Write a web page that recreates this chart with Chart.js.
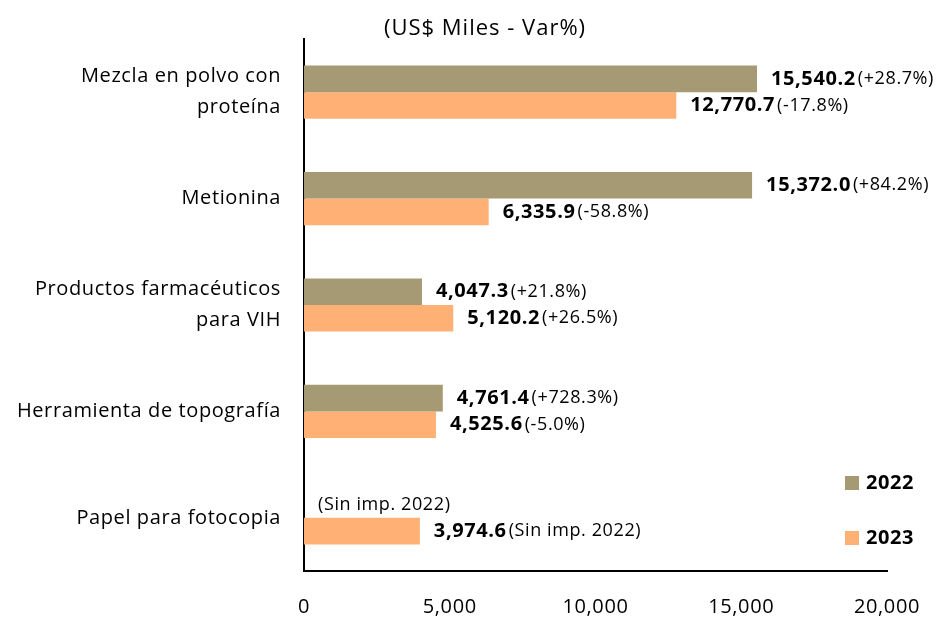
<!DOCTYPE html>
<html>
<head>
<meta charset="utf-8">
<script src="https://cdn.jsdelivr.net/npm/chart.js@4"></script>
<style>
  body { margin: 0; background: #fff; }
  #wrap { width: 945px; height: 625px; }
</style>
</head>
<body>
<div id="wrap"><canvas id="chart" width="945" height="625"></canvas></div>
<script>
// Data
const categories = [
  ['Mezcla en polvo con', 'proteína'],
  'Metionina',
  ['Productos farmacéuticos', 'para VIH'],
  'Herramienta de topografía',
  'Papel para fotocopia'
];
const values2022 = [15540.2, 15372.0, 4047.3, 4761.4, null];
const values2023 = [12770.7, 6335.9, 5120.2, 4525.6, 3974.6];
const var2022 = ['(+28.7%)', '(+84.2%)', '(+21.8%)', '(+728.3%)', '(Sin imp. 2022)'];
const var2023 = ['(-17.8%)', '(-58.8%)', '(+26.5%)', '(-5.0%)', '(Sin imp. 2022)'];
const xTicks = [0, 5000, 10000, 15000, 20000];

const FONT = '"Open Sans", Lato, sans-serif';
const COLOR_2022 = '#A69A75';
const COLOR_2023 = '#FFB074';
const SPACING = '0.6px';

function fmt(v) {
  return v.toLocaleString('en-US', { minimumFractionDigits: 1, maximumFractionDigits: 1 });
}

// wider letter spacing, like the original's rendering
const spacingPlugin = {
  id: 'spacing',
  beforeUpdate(chart) { chart.ctx.letterSpacing = SPACING; },
  beforeDraw(chart) { chart.ctx.letterSpacing = SPACING; }
};

// Draws value labels, subtitle and legend
const labelsPlugin = {
  id: 'barLabels',
  afterDatasetsDraw(chart) {
    const ctx = chart.ctx;
    const xScale = chart.scales.x;
    const vars = [var2022, var2023];
    ctx.save();
    ctx.textBaseline = 'middle';
    ctx.fillStyle = '#000';
    chart.data.datasets.forEach((ds, di) => {
      const meta = chart.getDatasetMeta(di);
      meta.data.forEach((bar, i) => {
        const v = ds.data[i];
        let x = (v == null ? xScale.getPixelForValue(0) : bar.x) + 14;
        const y = bar.y;
        if (!isFinite(y)) return;
        ctx.textAlign = 'left';
        if (v != null) {
          ctx.font = 'bold 20px ' + FONT;
          const s = fmt(v);
          ctx.fillText(s, x, y);
          x += ctx.measureText(s).width + 2;
        }
        ctx.font = '18px ' + FONT;
        ctx.fillText(vars[di][i], x, y);
      });
    });

    // subtitle
    ctx.letterSpacing = '1px';
    ctx.font = '22px ' + FONT;
    ctx.textAlign = 'center';
    ctx.fillText('(US$ Miles - Var%)', 485, 29);
    ctx.letterSpacing = SPACING;

    // legend
    const items = [['2022', COLOR_2022, 483], ['2023', COLOR_2023, 538]];
    items.forEach(([txt, col, y]) => {
      ctx.fillStyle = col;
      ctx.fillRect(845, y - 7, 14, 14);
      ctx.fillStyle = '#000';
      ctx.font = 'bold 20px ' + FONT;
      ctx.textAlign = 'left';
      ctx.fillText(txt, 866, y);
    });
    ctx.restore();
  }
};

new Chart(document.getElementById('chart'), {
  type: 'bar',
  data: {
    labels: categories,
    datasets: [
      { label: '2022', data: values2022, backgroundColor: COLOR_2022 },
      { label: '2023', data: values2023, backgroundColor: COLOR_2023 }
    ]
  },
  options: {
    indexAxis: 'y',
    responsive: false,
    animation: false,
    layout: { padding: { top: 39, right: 58, left: 0, bottom: 0 } },
    categoryPercentage: 0.5,
    barPercentage: 1.0,
    plugins: {
      legend: { display: false },
      tooltip: { enabled: false }
    },
    scales: {
      x: {
        min: 0,
        max: 20000,
        afterBuildTicks(scale) {
          scale.ticks = xTicks.map(v => ({ value: v }));
        },
        afterFit(scale) { scale.height = 45; },
        grid: { display: false, drawTicks: false },
        border: { display: true, color: '#000', width: 2 },
        ticks: {
          padding: 24,
          color: '#000',
          font: { family: FONT, size: 20 },
          callback: v => v.toLocaleString('en-US')
        }
      },
      y: {
        afterFit(scale) { scale.width = 304; },
        grid: { display: false, drawTicks: false },
        border: { display: true, color: '#000', width: 2 },
        ticks: {
          padding: 23,
          color: '#000',
          font: { family: FONT, size: 20, lineHeight: 1.55 }
        }
      }
    }
  },
  plugins: [spacingPlugin, labelsPlugin]
});
</script>
</body>
</html>
